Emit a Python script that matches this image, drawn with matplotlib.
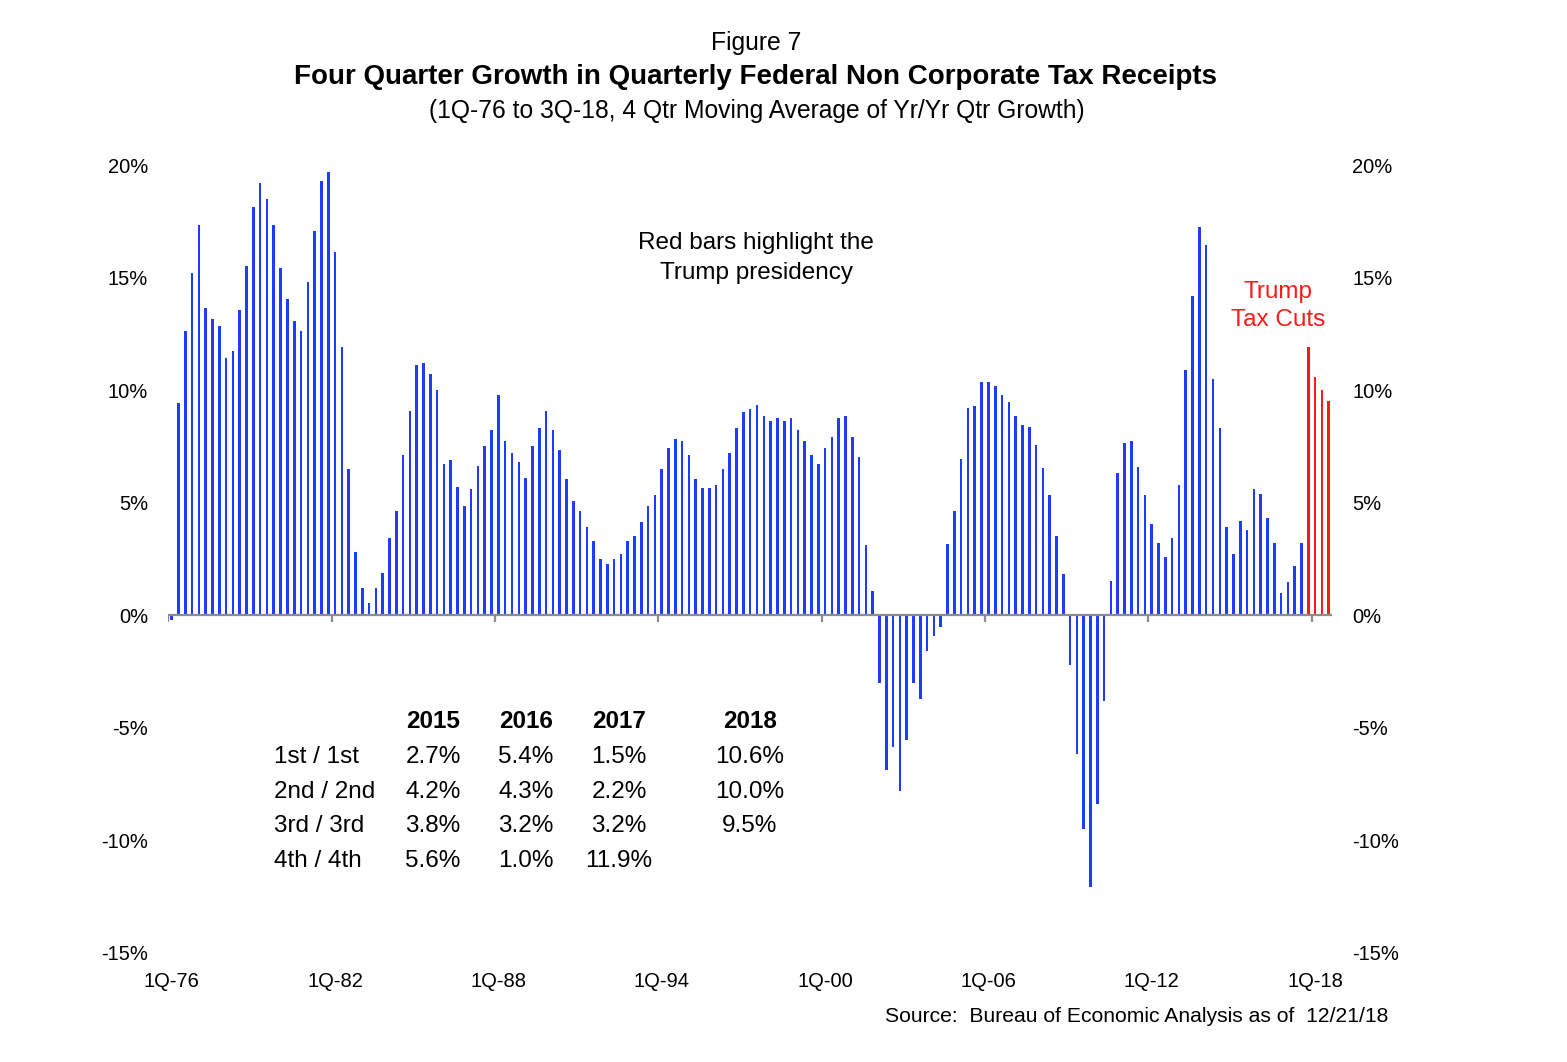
import matplotlib
matplotlib.use('Agg')
import matplotlib.pyplot as plt

plt.rcParams['font.family'] = ['Liberation Sans', 'DejaVu Sans']

# ---------------- data ----------------
start_year = 1976
growth = [
    -0.2, 9.45, 12.64, 15.19, 17.35, 13.66, 13.14, 12.84, 11.41, 11.72,
    13.56, 15.51, 18.15, 19.19, 18.47, 17.35, 15.41, 14.07, 13.05, 12.64,
    14.79, 17.05, 19.29, 19.70, 16.12, 11.93, 6.49, 2.81, 1.19, 0.56,
    1.19, 1.90, 3.42, 4.65, 7.11, 9.07, 11.11, 11.20, 10.70, 9.99,
    6.71, 6.90, 5.69, 4.86, 5.59, 6.61, 7.53, 8.25, 9.78, 7.73,
    7.21, 6.81, 6.09, 7.53, 8.34, 9.07, 8.25, 7.32, 6.07, 5.07,
    4.65, 3.94, 3.32, 2.50, 2.30, 2.50, 2.71, 3.32, 3.53, 4.13,
    4.86, 5.36, 6.49, 7.42, 7.82, 7.72, 7.10, 6.07, 5.67, 5.67,
    5.78, 6.49, 7.21, 8.34, 9.05, 9.16, 9.36, 8.86, 8.65, 8.76,
    8.65, 8.76, 8.24, 7.72, 7.11, 6.70, 7.42, 7.93, 8.76, 8.86,
    7.93, 7.01, 3.11, 1.07, -3.01, -6.89, -5.87, -7.81, -5.56, -3.01,
    -3.72, -1.57, -0.90, -0.50, 3.15, 4.64, 6.96, 9.19, 9.29, 10.37,
    10.37, 10.19, 9.78, 9.47, 8.87, 8.47, 8.37, 7.56, 6.55, 5.33,
    3.53, 1.82, -2.22, -6.15, -9.48, -12.07, -8.37, -3.82, 1.51, 6.34,
    7.65, 7.73, 6.59, 5.36, 4.04, 3.21, 2.61, 3.42, 5.78, 10.89,
    14.18, 17.26, 16.44, 10.49, 8.34, 3.94, 2.7, 4.2, 3.8, 5.6,
    5.4, 4.3, 3.2, 1.0, 1.5, 2.2, 3.2, 11.9, 10.6, 10.0,
    9.5,
]
quarters = [f"{q}Q-{str(y)[2:]}" for y in range(start_year, 2019) for q in range(1, 5)][:len(growth)]
red_start = "4Q-17"

x_tick_labels = ["1Q-76", "1Q-82", "1Q-88", "1Q-94", "1Q-00", "1Q-06", "1Q-12", "1Q-18"]
y_ticks = [20, 15, 10, 5, 0, -5, -10, -15]

table_years = [2015, 2016, 2017, 2018]
table_rows = ["1st / 1st", "2nd / 2nd", "3rd / 3rd", "4th / 4th"]

# ---------------- figure ----------------
W, H = 1567, 1062
fig = plt.figure(figsize=(W / 100, H / 100), dpi=100)

def fx(px):
    return px / W

def fy(py):
    return 1 - py / H

ax = fig.add_axes([fx(168.3), fy(953), fx(1332.1) - fx(168.3), fy(165) - fy(953)])

blue = '#1f3bff'
red = '#ff1a1a'
ri = quarters.index(red_start)
xs = list(range(len(growth)))
colors = [blue if i < ri else red for i in xs]
ax.bar(xs, growth, width=0.38, color=colors, linewidth=0, zorder=2)

ax.set_xlim(-0.5, len(growth) - 0.5)
ax.set_ylim(-15, 20)

# zero axis line with tick marks at category edges
ax.plot([-0.5, len(growth) - 0.5], [0, 0], color='#8c8c8c', lw=1.6, zorder=3,
        solid_capstyle='butt')
tick_pos = [quarters.index(l) for l in x_tick_labels]
ax.vlines([p - 0.5 for p in tick_pos], -0.28, 0, color='#8c8c8c', lw=1.6, zorder=3)

for s in ax.spines.values():
    s.set_visible(False)

ax.set_xticks(tick_pos)
ax.set_xticklabels(x_tick_labels, fontsize=14.5)
ax.tick_params(axis='x', length=0, pad=13.5)

ax.set_yticks(y_ticks)
ax.set_yticklabels([f"{v}%" for v in y_ticks], fontsize=14.5)
ax.tick_params(axis='y', length=0, pad=14.5, labelleft=True, labelright=True)

# titles
fig.text(fx(756), fy(43), "Figure 7", ha='center', va='center', fontsize=17.8)
fig.text(fx(756), fy(77), "Four Quarter Growth in Quarterly Federal Non Corporate Tax Receipts",
         ha='center', va='center', fontsize=20, fontweight='bold')
fig.text(fx(757), fy(111), "(1Q-76 to 3Q-18, 4 Qtr Moving Average of Yr/Yr Qtr Growth)",
         ha='center', va='center', fontsize=17.75)

# annotations
fig.text(fx(756), fy(258), "Red bars highlight the\nTrump presidency", ha='center', va='center',
         fontsize=17.5, linespacing=1.42)
fig.text(fx(1278), fy(306), "Trump\nTax Cuts", ha='center', va='center', fontsize=17.5,
         color=red, linespacing=1.36)

# table
col_x = [433, 526, 619, 750]
row_y = [757, 792, 826, 861]
for cx, yr in zip(col_x, table_years):
    fig.text(fx(cx), fy(722), str(yr), ha='center', va='center', fontsize=17.5, fontweight='bold')
for r, (ry, lab) in enumerate(zip(row_y, table_rows)):
    fig.text(fx(274), fy(ry), lab, ha='left', va='center', fontsize=17.5)
    for cx, yr in zip(col_x, table_years):
        idx = (yr - start_year) * 4 + r
        if idx < len(growth):
            fig.text(fx(cx), fy(ry), f"{growth[idx]:.1f}%", ha='center', va='center', fontsize=17.5)

fig.text(fx(1388), fy(1016), "Source:  Bureau of Economic Analysis as of  12/21/18",
         ha='right', va='center', fontsize=15.2)

fig.savefig('out.png', dpi=100)
